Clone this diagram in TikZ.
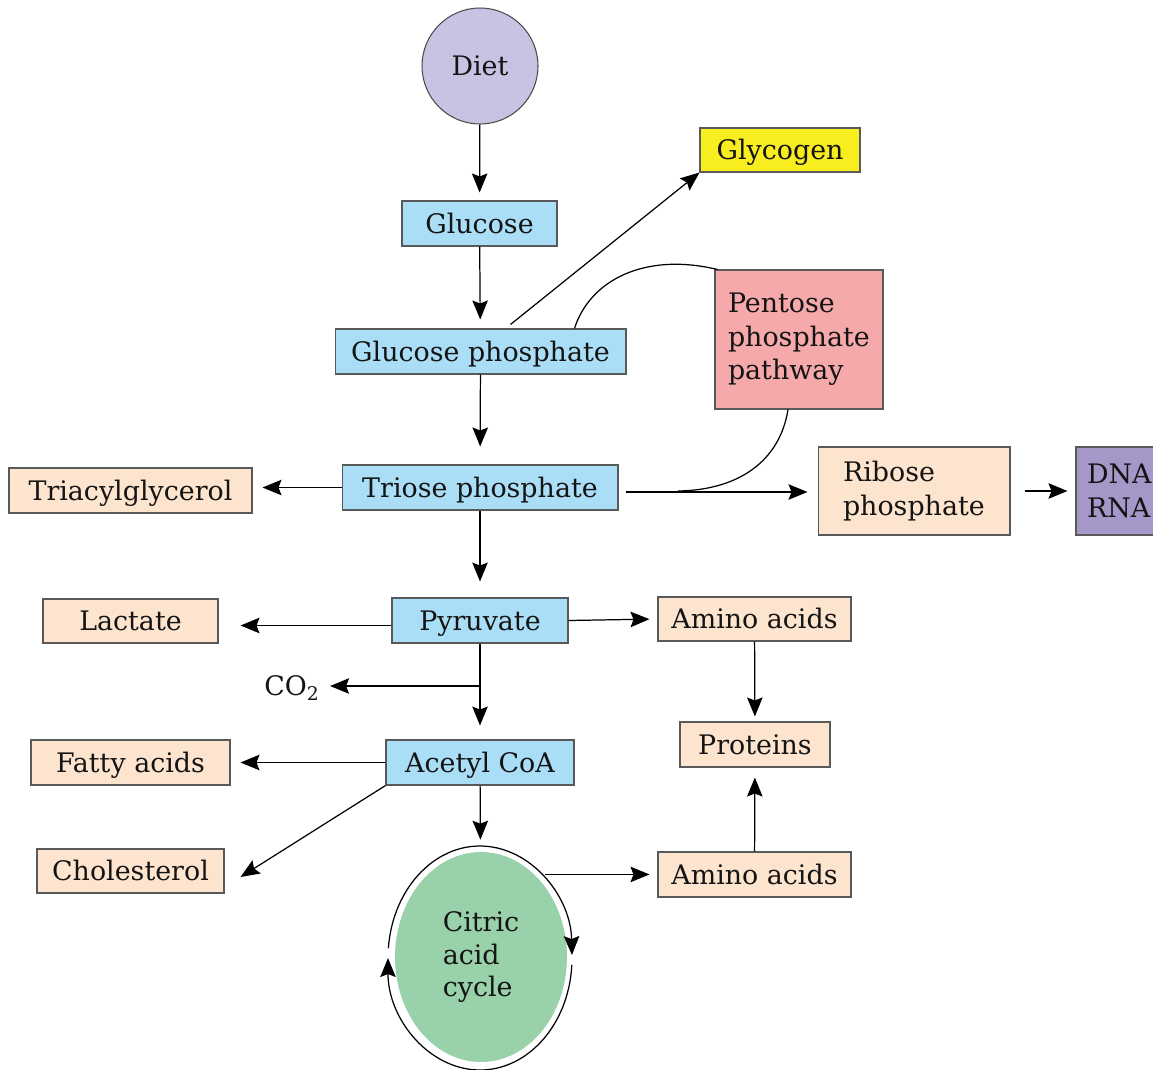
\documentclass[tikz,border=0pt]{standalone}
\usepackage{fontspec}
\setmainfont{DejaVu Serif}
\usetikzlibrary{arrows.meta,shapes.geometric}
\definecolor{bl}{HTML}{AADEF6}
\definecolor{pc}{HTML}{FDE4CE}
\definecolor{yl}{HTML}{F8ED1E}
\definecolor{pk}{HTML}{F5A9AB}
\definecolor{pu}{HTML}{A697C9}
\definecolor{lv}{HTML}{C7C4E3}
\definecolor{gr}{HTML}{99D1AB}
\begin{document}
\begin{tikzpicture}[x=0.02cm,y=-0.02cm,
 every node/.style={font=\fontsize{15.3}{19}\selectfont, text=black!92},
 box/.style={draw=black!65, line width=0.6pt, rectangle, inner sep=0pt, minimum height=0.9cm},
 one/.style={box, text height=11.6pt, text depth=0.4pt},
 arr/.style={-{Stealth[length=3.8mm,width=3.1mm,inset=0.6mm]}, line width=0.7pt},
 ln/.style={line width=0.7pt}]
\useasboundingbox (0,0) rectangle (1153,1069);
\clip (0,0) rectangle (1153,1069);
% nodes
\node[circle, draw=black!70, line width=0.6pt, fill=lv, minimum size=2.32cm, inner sep=0pt] (diet) at (480,66) {Diet};
\node[one, fill=bl, minimum width=3.1cm] (glu) at (479.5,223.5) {Glucose};
\node[one, fill=bl, minimum width=5.82cm] (gp) at (480.5,351.5) {Glucose phosphate};
\node[one, fill=bl, minimum width=5.52cm] (tri) at (480,487.5) {Triose phosphate};
\node[one, fill=bl, minimum width=3.52cm] (pyr) at (480,620.5) {Pyruvate};
\node[one, fill=bl, minimum width=3.76cm] (ace) at (480,762.5) {Acetyl CoA};
\node[one, fill=yl, minimum width=3.2cm, minimum height=0.88cm] (gly) at (780,150) {Glycogen};
\node[box, fill=pk, minimum width=3.36cm, minimum height=2.78cm, text width=2.84cm, align=left, inner xsep=0.26cm] (pent) at (799,339.5) {Pentose\\phosphate\\pathway};
\node[box, fill=pc, minimum width=3.84cm, minimum height=1.76cm, text width=2.84cm, align=left, inner xsep=0.5cm] (rib) at (914,491) {Ribose\\phosphate};
\node[box, fill=pu, minimum width=1.68cm, minimum height=1.76cm, text width=1.24cm, align=left, inner xsep=0.22cm] (dna) at (1118,491) {DNA\\RNA};
\node[one, fill=pc, minimum width=4.86cm] (tac) at (130.5,490.5) {Triacylglycerol};
\node[one, fill=pc, minimum width=3.5cm, minimum height=0.88cm] (lac) at (130.5,621) {Lactate};
\node[one, fill=pc, minimum width=3.98cm] (fat) at (130.5,762.5) {Fatty acids};
\node[one, fill=pc, minimum width=3.74cm, minimum height=0.88cm] (chol) at (130.5,871) {Cholesterol};
\node[one, fill=pc, minimum width=3.86cm, minimum height=0.88cm] (ami1) at (754.5,619) {Amino acids};
\node[one, fill=pc, minimum width=3.0cm] (prot) at (755,744.5) {Proteins};
\node[one, fill=pc, minimum width=3.86cm] (ami2) at (754.5,874.5) {Amino acids};
\node[inner sep=0pt] (co2) at (292,688) {CO\textsubscript{2}};
\node[ellipse, fill=gr, minimum width=3.44cm, minimum height=4.2cm, inner sep=0pt, align=left, font=\fontsize{15.3}{18.5}\selectfont] (cyc) at (481,957) {Citric\\acid\\cycle};
\coordinate (cc) at (480,958);
\coordinate (co2j) at (480,686);
% cycle arcs
\draw[arr] ([shift={(185:92 and 112)}]cc) arc[start angle=185, end angle=358.5, x radius=92, y radius=112];
\draw[arr] ([shift={(3.5:92 and 112)}]cc) arc[start angle=3.5, end angle=180, x radius=92, y radius=112];
% connectors
\draw[arr, shorten >=0.16cm] (diet) -- (glu);
\draw[arr, shorten >=0.18cm] (glu) -- (gp);
\draw[arr] ([xshift=0.6cm,yshift=0.08cm]gp.north) -- (gly.south west);
\draw[arr, shorten >=0.36cm] (gp) -- (tri);
\draw[arr, shorten >=0.2cm] (tri.west) -- (tri.west -| tac.east);
\draw[arr, shorten <=0.14cm, shorten >=0.2cm] ([yshift=-0.09cm]tri.east) -- ([yshift=-0.09cm]tri.east -| rib.west);
\draw[arr, shorten <=0.28cm, shorten >=0.16cm] (rib) -- (dna);
\draw[arr, shorten >=0.32cm] (tri) -- (pyr);
\draw[arr, shorten >=0.44cm] ([yshift=-0.1cm]pyr.west) -- ([yshift=-0.1cm]pyr.west -| lac.east);
\draw[arr, shorten >=0.16cm] (pyr.east) -- (ami1.west);
\draw[arr, shorten >=0.28cm] (pyr) -- (ace);
\draw[arr, shorten >=0.2cm] (co2j) -- (co2j -| co2.east);
\draw[arr, shorten >=0.2cm] (ace.west) -- (ace.west -| fat.east);
\draw[arr] (ace.south west) -- ([xshift=0.32cm,yshift=-0.12cm]chol.east);
\draw[arr, shorten >=0.24cm] (ace) -- (cyc);
\draw[arr, shorten <=0.2cm, shorten >=0.16cm] (cyc.57) -- (cyc.57 -| ami2.west);
\draw[arr, shorten >=0.1cm] (ami1) -- (prot);
\draw[arr, shorten >=0.2cm] (ami2) -- (prot);
% pentose phosphate curves
\draw[ln] ([xshift=1.88cm]gp.north) .. controls (590,280) and (645,252) .. ([xshift=0.06cm]pent.north west);
\draw[ln] ([xshift=-0.22cm]pent.south) .. controls (780,460) and (740,490) .. (678,491);
\end{tikzpicture}
\end{document}
